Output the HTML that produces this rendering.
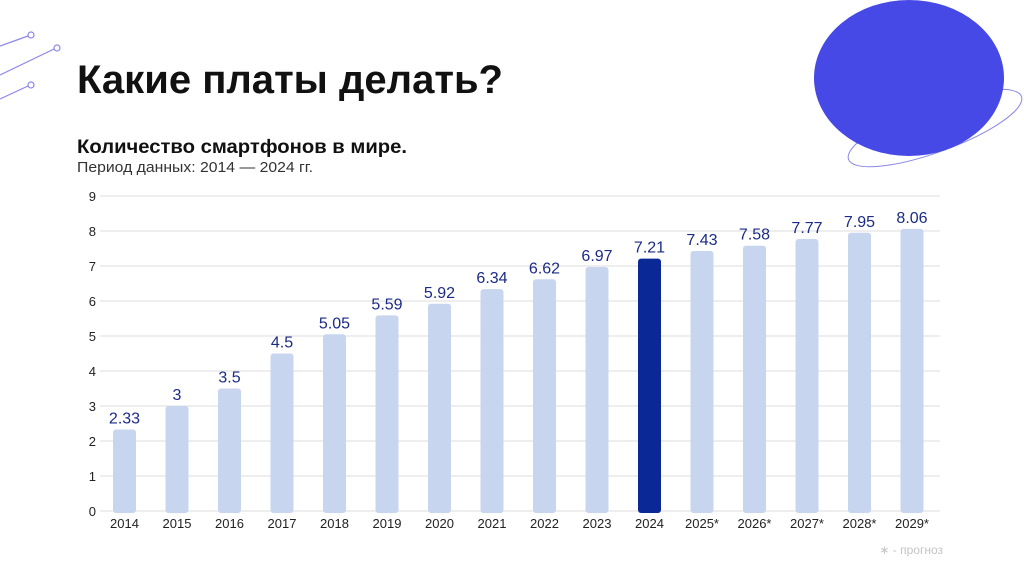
<!DOCTYPE html>
<html><head><meta charset="utf-8"><style>
body{margin:0;width:1024px;height:576px;overflow:hidden;background:#fff;font-family:"Liberation Sans","Noto Sans CJK SC",sans-serif;}
svg{position:absolute;left:0;top:0}
</style></head><body>
<svg width="1024" height="576">
<g stroke="#8a86e8" stroke-width="1.2" fill="#fff">
<line x1="0" y1="46" x2="28" y2="36"/><circle cx="31" cy="35" r="3"/>
<line x1="0" y1="75" x2="54" y2="49"/><circle cx="57" cy="48" r="3"/>
<line x1="0" y1="99" x2="28" y2="86"/><circle cx="31" cy="85" r="3"/>
</g>
<ellipse cx="935" cy="128" rx="92" ry="24" transform="rotate(-20 935 128)" fill="none" stroke="#8a86e8" stroke-width="1"/>
<ellipse cx="909" cy="78" rx="95" ry="78" fill="#4649e5"/>
<text x="77" y="93" font-size="40" font-weight="bold" fill="#111" textLength="426" lengthAdjust="spacingAndGlyphs">Какие платы делать?</text>
<text x="77" y="153" font-size="19" font-weight="bold" fill="#111" textLength="330" lengthAdjust="spacingAndGlyphs">Количество смартфонов в мире.</text>
<text x="77" y="172" font-size="15" fill="#333" textLength="236" lengthAdjust="spacingAndGlyphs">Период данных: 2014 — 2024 гг.</text>
<g id="chart"></g>
<text x="943" y="554" font-size="12" fill="#c4c4c4" text-anchor="end">∗ - прогноз</text>
</svg>
<script>
const categories=["2014","2015","2016","2017","2018","2019","2020","2021","2022","2023","2024","2025*","2026*","2027*","2028*","2029*"];
const values=[2.33,3,3.5,4.5,5.05,5.59,5.92,6.34,6.62,6.97,7.21,7.43,7.58,7.77,7.95,8.06];
const valueLabels=["2.33","3","3.5","4.5","5.05","5.59","5.92","6.34","6.62","6.97","7.21","7.43","7.58","7.77","7.95","8.06"];
const yTicks=[0,1,2,3,4,5,6,7,8,9];
const highlightIndex=10;
const NS="http://www.w3.org/2000/svg";
const g=document.getElementById('chart');
const y=v=>511-v*35;
const x=i=>124.5+i*52.5;
function mk(t,a){const e=document.createElementNS(NS,t);for(const k in a)e.setAttribute(k,a[k]);g.appendChild(e);return e;}
yTicks.forEach(t=>{
 const l=mk('line',{x1:100,x2:940,y1:y(t),y2:y(t),stroke:'#dedede','stroke-width':1});
 
 
 const tx=mk('text',{x:96,y:y(t)+5,'font-size':13,fill:'#222','text-anchor':'end'});
 tx.textContent=t;
 
 
});
categories.forEach((c,i)=>{
 const top=y(values[i]);
 const r=mk('rect',{x:x(i)-11.5,y:top,width:23,height:513-top,rx:3,fill:i===highlightIndex?'#0a2896':'#c8d5ef'});
 
 
 const v=mk('text',{x:x(i),y:top-6,'font-size':16,fill:'#1b2a85','text-anchor':'middle'});
 v.textContent=valueLabels[i];
 
 
 const xl=mk('text',{x:x(i),y:528,'font-size':13,fill:'#222','text-anchor':'middle'});
 xl.textContent=c;
 
 
});
</script>
</body></html>
